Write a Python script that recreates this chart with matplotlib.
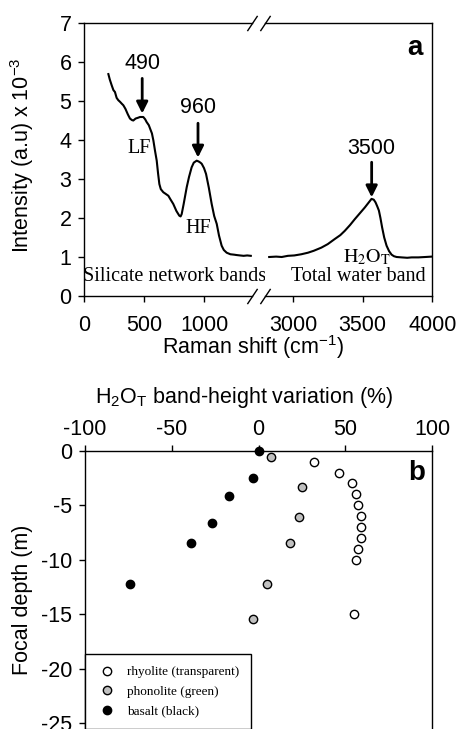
import matplotlib
matplotlib.use("Agg")
import matplotlib.pyplot as plt

plt.rcParams["font.family"] = ["Liberation Sans", "DejaVu Sans"]
plt.rcParams["mathtext.fontset"] = "custom"
plt.rcParams["mathtext.rm"] = "Liberation Sans"
plt.rcParams["mathtext.it"] = "Liberation Sans:italic"
plt.rcParams["mathtext.bf"] = "Liberation Sans:bold"
plt.rcParams["axes.unicode_minus"] = False
plt.rcParams["axes.linewidth"] = 1.0

# Panel a: Raman spectrum
silicate_shift = [203, 215, 231, 245, 258, 272, 286, 300, 315, 328, 345, 365, 383, 400,
                  411, 430, 450, 467, 494, 510, 522, 540, 556, 566, 578, 592, 606, 617,
                  628, 640, 661, 680, 703, 720, 744, 770, 794, 805, 814, 830, 856, 875,
                  897, 915, 939, 955, 970, 981, 1000, 1017, 1040, 1064, 1085, 1106, 1125,
                  1147, 1165, 1189, 1220, 1250, 1272, 1300, 1330, 1360, 1390]
silicate_int = [5.69, 5.55, 5.40, 5.28, 5.23, 5.08, 5.02, 4.98, 4.93, 4.89, 4.80, 4.66,
                4.55, 4.51, 4.50, 4.55, 4.57, 4.59, 4.59, 4.53, 4.46, 4.38, 4.25, 4.17,
                3.99, 3.72, 3.47, 3.15, 2.87, 2.74, 2.66, 2.62, 2.57, 2.48, 2.36, 2.18,
                2.06, 2.04, 2.10, 2.35, 2.79, 3.05, 3.30, 3.42, 3.47, 3.45, 3.42, 3.39,
                3.28, 3.13, 2.78, 2.36, 2.05, 1.85, 1.55, 1.29, 1.18, 1.11, 1.07, 1.06,
                1.05, 1.04, 1.03, 1.04, 1.03]
water_shift = [2830, 2880, 2920, 2964, 3010, 3060, 3108, 3150, 3204, 3250, 3300, 3340,
               3372, 3410, 3444, 3480, 3516, 3540, 3564, 3580, 3593, 3605, 3617, 3628,
               3640, 3655, 3672, 3690, 3708, 3725, 3744, 3780, 3820, 3852, 3900, 3950, 3996]
water_int = [1.00, 1.01, 1.00, 1.03, 1.04, 1.07, 1.11, 1.16, 1.24, 1.33, 1.46, 1.56,
             1.67, 1.82, 1.97, 2.12, 2.27, 2.38, 2.49, 2.47, 2.40, 2.30, 2.19, 2.00,
             1.76, 1.50, 1.29, 1.15, 1.06, 1.02, 1.00, 0.99, 0.98, 0.99, 0.99, 1.00, 1.01]

# peak arrows: x, tip, tail, label height
peak_x = [485, 950, 3565]
peak_tip = [4.68, 3.55, 2.53]
peak_tail = [5.58, 4.43, 3.43]
peak_label_y = [5.97, 4.84, 3.78]
peak_labels = ["490", "960", "3500"]

# Panel b: band-height variation vs focal depth
rhyolite_var = [32, 46, 54, 56, 57, 59, 59, 59, 57, 56, 55]
rhyolite_depth = [-1, -2, -3, -4, -5, -6, -7, -8, -9, -10, -15]
phonolite_var = [7, 25, 23, 18, 5, -3]
phonolite_depth = [-0.55, -3.3, -6.1, -8.5, -12.2, -15.4]
basalt_var = [0, -3, -17, -27, -39, -74]
basalt_depth = [0, -2.5, -4.2, -6.6, -8.5, -12.2]

W, H = 458, 729
fig = plt.figure(figsize=(W / 100, H / 100), dpi=100)


def box(x0, y0, x1, y1):
    # pixel box -> figure fraction
    return [x0 / W, 1 - y1 / H, (x1 - x0) / W, (y1 - y0) / H]


ax_l = fig.add_axes(box(84, 23, 252, 296))
ax_r = fig.add_axes(box(265, 23, 432.3, 296), sharey=ax_l)

ax_l.plot(silicate_shift, silicate_int, color="black", lw=1.5)
ax_r.plot(water_shift, water_int, color="black", lw=1.5)

ax_l.set_xlim(0, 1400)
ax_r.set_xlim(2800, 4000)
ax_l.set_ylim(0, 7)
ax_l.set_xticks([0, 500, 1000])
ax_r.set_xticks([3000, 3500, 4000])
ax_l.set_yticks(range(0, 8))

ax_l.spines["right"].set_visible(False)
ax_r.spines["left"].set_visible(False)
ax_r.tick_params(axis="y", left=False, labelleft=False)
for a in (ax_l, ax_r):
    a.tick_params(direction="out", length=4, width=1, labelsize=15.5)
    a.tick_params(axis="x", pad=10)
ax_l.tick_params(axis="y", pad=5)

# break marks
slash = dict(marker=[(-1, -1.5), (1, 1.5)], markersize=11, linestyle="none",
             color="k", mec="k", mew=1, clip_on=False)
ax_l.plot([1, 1], [0, 1], transform=ax_l.transAxes, **slash)
ax_r.plot([0, 0], [0, 1], transform=ax_r.transAxes, **slash)

for i in range(3):
    target = ax_l if peak_x[i] < 2000 else ax_r
    target.annotate("", xy=(peak_x[i], peak_tip[i]), xytext=(peak_x[i], peak_tail[i]),
                    arrowprops=dict(arrowstyle="-|>", color="k", lw=2,
                                    mutation_scale=17, shrinkA=0, shrinkB=0))
    target.text(peak_x[i], peak_label_y[i], peak_labels[i], ha="center", va="center",
                fontsize=15.5)

serif = dict(family="Liberation Serif", fontsize=14.5, ha="center", va="center")
ax_l.text(460, 3.78, "LF", **serif)
ax_l.text(953, 1.72, "HF", **serif)
ax_r.text(3529, 1.0, r"$\mathrm{H_2O_T}$", math_fontfamily="stix", **serif)
ax_l.text(754, 0.49, "Silicate network bands", **serif)
ax_r.text(3471, 0.49, "Total water band", **serif)
ax_r.text(0.894, 0.91, "a", transform=ax_r.transAxes, fontsize=20,
          fontweight="bold", ha="center", va="center")

fig.text(253.5 / W, 1 - 347 / H, r"Raman shift (cm$^{-1}$)", fontsize=15.5,
         ha="center", va="center")
fig.text(22 / W, 1 - 155 / H, r"Intensity (a.u) x 10$^{-3}$", fontsize=15.5,
         ha="center", va="center", rotation=90)

# panel b
ax_b = fig.add_axes(box(85, 450.7, 432.3, 777.7))
ax_b.plot(rhyolite_var, rhyolite_depth, "o", ms=6, mfc="white", mec="black", mew=1,
          label="rhyolite (transparent)", clip_on=False)
ax_b.plot(phonolite_var, phonolite_depth, "o", ms=6, mfc="#c0c0c0", mec="black", mew=1,
          label="phonolite (green)", clip_on=False)
ax_b.plot(basalt_var, basalt_depth, "o", ms=6, mfc="black", mec="black", mew=1,
          label="basalt (black)", clip_on=False, zorder=5)
ax_b.set_xlim(-100, 100)
ax_b.set_ylim(-30, 0)
ax_b.set_xticks([-100, -50, 0, 50, 100])
ax_b.set_yticks([0, -5, -10, -15, -20, -25])
ax_b.xaxis.set_ticks_position("top")
ax_b.xaxis.set_label_position("top")
ax_b.tick_params(direction="out", length=4, width=1, labelsize=15.5)
ax_b.tick_params(axis="y", pad=5)
ax_b.tick_params(axis="x", pad=4)
ax_b.text(0.9545, 0.933, "b", transform=ax_b.transAxes, fontsize=20,
          fontweight="bold", ha="center", va="center")

fig.text(244 / W, 1 - 397 / H, r"H$_2$O$_\mathrm{T}$ band-height variation (%)",
         fontsize=15.5, ha="center", va="center")
fig.text(23 / W, 1 - 599.5 / H, "Focal depth (m)", fontsize=15.5,
         ha="center", va="center", rotation=90)

leg = ax_b.legend(loc="upper left", bbox_to_anchor=(0, 0.378), borderaxespad=0,
                  prop={"family": "Liberation Serif", "size": 9.5}, fancybox=False,
                  edgecolor="black", framealpha=1, handletextpad=0.8, labelspacing=0.55,
                  borderpad=0.9, handlelength=1.5)
leg.get_frame().set_linewidth(1.0)

fig.savefig("out.png", dpi=100)
